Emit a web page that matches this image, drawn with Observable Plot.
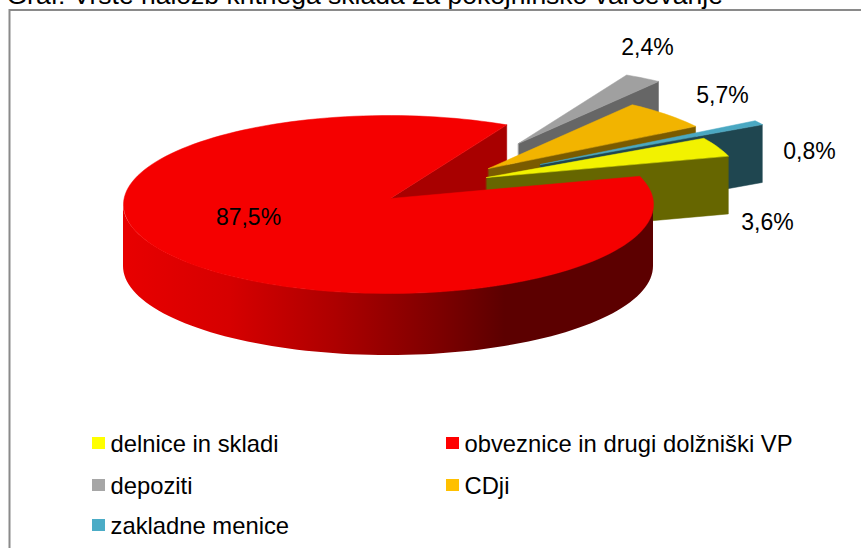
<!DOCTYPE html>
<html>
<head>
<meta charset="utf-8">
<script src="https://cdn.jsdelivr.net/npm/d3@7"></script>
<script src="https://cdn.jsdelivr.net/npm/@observablehq/plot@0.6"></script>
<style>
  html, body { margin: 0; padding: 0; background: #fff; overflow: hidden; }
  svg { display: block; }
</style>
</head>
<body>
<script>
// Slice order runs clockwise, as in the legend.
const categories = ["delnice in skladi", "obveznice in drugi dolžniški VP", "depoziti", "CDji", "zakladne menice"];
const shares = [3.6, 87.5, 2.4, 5.7, 0.8];
const shareLabels = ["3,6%", "87,5%", "2,4%", "5,7%", "0,8%"];
const topColors = ["#f2f200", "#f50000", "#a0a0a0", "#f2b400", "#4aa8c2"];
const wallColors = ["#666600", "#a80000", "#666666", "#7a5b00", "#1f4650"];
const swatchColors = ["#ffff00", "#ff0000", "#a6a6a6", "#ffc000", "#4bacc6"];
const titleText = "Graf: Vrste naložb kritnega sklada za pokojninsko varčevanje";

// Pie projection: an ellipse tilted towards the viewer, with exploded wedges.
const rx = 265, ry = 89;
const firstAngle = -18.5 - 12.96; // yellow wedge starts here so that red starts at -18.5 deg
const apexes = [[486, 177], [390, 198], [518, 143], [488, 168], [540, 164]];
const radiusScale = [0.97, 1, 0.93, 0.955, 0.99];
const depths = [58, 62, 58, 58, 58];
const labelPositions = [[767, 222], [248, 217], [647, 47], [722, 95], [809, 151]];
const legendPositions = [[92, 437], [446, 437], [92, 479], [446, 479], [92, 519]];

// Angular extent of each wedge, from its share of the total.
const total = d3.sum(shares);
let running = firstAngle;
const wedges = shares.map((v, i) => {
  const start = running;
  running += (v / total) * 360;
  return {i, start, end: running, apex: apexes[i], s: radiusScale[i], depth: depths[i], color: topColors[i], wall: wallColors[i]};
});

// Points along a wedge's outer rim; the ellipse centre sits a little below the apex.
function rim(w, a) {
  const t = a * Math.PI / 180;
  return {
    x: w.apex[0] + (-2 + rx * Math.cos(t)) * w.s,
    y: w.apex[1] + (6 + ry * Math.sin(t)) * w.s
  };
}
function topFace(w) {
  const pts = [{x: w.apex[0], y: w.apex[1]}];
  const n = Math.max(2, Math.ceil((w.end - w.start) / 2));
  for (let k = 0; k <= n; ++k) pts.push(rim(w, w.start + (w.end - w.start) * k / n));
  return pts;
}
// Flat side wall along a radial cut at angle a.
function radialWall(w, a) {
  const p = rim(w, a);
  return [
    {x: w.apex[0], y: w.apex[1]},
    {x: p.x, y: p.y},
    {x: p.x, y: p.y + w.depth},
    {x: w.apex[0], y: w.apex[1] + w.depth}
  ];
}

const [yellow, red, gray, orange, teal] = wedges;

// Curved outer wall of the large wedge, along the near half of the rim.
const redOuter = d3.range(180, -0.5, -2).map(a => {
  const p = rim(red, a);
  return {x: p.x, y1: p.y, y2: p.y + red.depth};
});

const fillPoly = (pts, fill) => Plot.line(pts, {x: "x", y: "y", fill, stroke: fill, strokeWidth: 0.5, curve: "linear-closed"});

const wallGradient = () => {
  const defs = d3.create("svg:defs");
  const g = defs.append("linearGradient").attr("id", "redWallShade");
  [[0, "#e80000"], [0.2, "#d60000"], [0.4, "#ad0000"], [0.6, "#7c0000"], [0.72, "#5c0000"], [1, "#5c0000"]]
    .forEach(([o, c]) => g.append("stop").attr("offset", o).attr("stop-color", c));
  return defs.node();
};

const font = {fontFamily: "'Liberation Sans', Arial, sans-serif", fill: "#000"};
const legend = categories.map((name, i) => ({name, i, x: legendPositions[i][0], y: legendPositions[i][1]}));
const labels = shareLabels.map((text, i) => ({text, x: labelPositions[i][0], y: labelPositions[i][1]}));

const chart = Plot.plot({
  width: 861,
  height: 548,
  margin: 0,
  x: {domain: [0, 861], range: [0, 861], axis: null},
  y: {domain: [0, 548], range: [0, 548], axis: null},
  marks: [
    wallGradient,
    // Chart frame; it runs on past the right and bottom edges of the page.
    Plot.ruleY([9.5], {x1: 9, x2: 861, stroke: "#8a8a8a", strokeWidth: 2}),
    Plot.ruleX([9], {y1: 9, y2: 548, stroke: "#8a8a8a", strokeWidth: 2}),
    Plot.text([titleText], {x: 6, y: 3, text: d => d, textAnchor: "start", lineAnchor: "bottom", fontSize: 26.5, ...font}),

    // Back to front: far cut of the big wedge, then the exploded wedges, then the big wedge.
    fillPoly(radialWall(red, red.end - 360), red.wall),
    fillPoly(radialWall(gray, gray.end), gray.wall),
    fillPoly(topFace(gray), gray.color),
    fillPoly(radialWall(orange, orange.end), orange.wall),
    fillPoly(topFace(orange), orange.color),
    fillPoly(radialWall(teal, teal.end), teal.wall),
    fillPoly(topFace(teal), teal.color),
    fillPoly(radialWall(yellow, yellow.end), yellow.wall),
    fillPoly(topFace(yellow), yellow.color),
    Plot.area(redOuter, {x1: "x", y1: "y1", x2: "x", y2: "y2", fill: "url(#redWallShade)"}),
    fillPoly(topFace(red), red.color),

    Plot.text(labels, {x: "x", y: "y", text: "text", textAnchor: "middle", lineAnchor: "middle", fontSize: 23, ...font}),

    Plot.rect(legend, {x1: "x", x2: d => d.x + 13, y1: "y", y2: d => d.y + 12, fill: d => swatchColors[d.i]}),
    Plot.text(legend, {x: d => d.x + 18, y: d => d.y + 7, text: "name", textAnchor: "start", lineAnchor: "middle", fontSize: 23.8, ...font})
  ]
});
document.body.appendChild(chart);
</script>
</body>
</html>
